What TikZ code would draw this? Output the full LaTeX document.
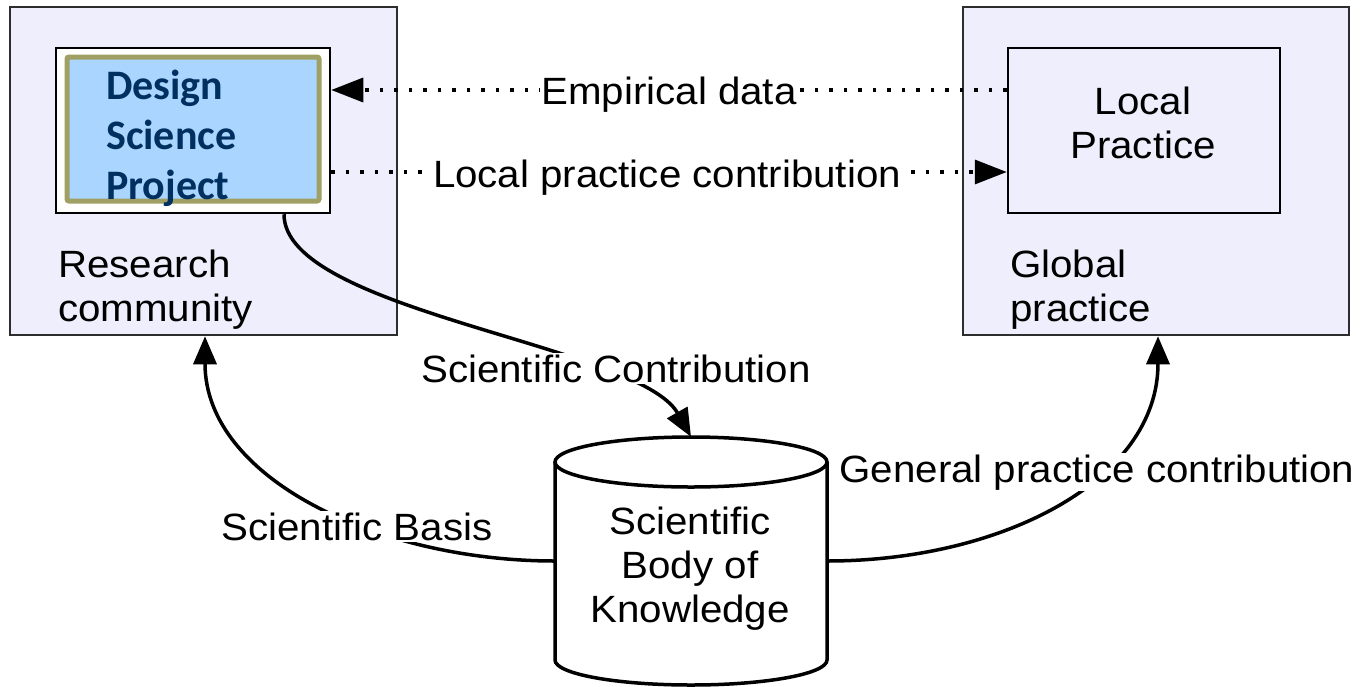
\documentclass[tikz,border=0pt]{standalone}
\usepackage{fontspec}
\setmainfont{Liberation Sans}[FakeStretch=1.06]
\newfontfamily\projfont{Carlito}
\usetikzlibrary{arrows.meta}

\definecolor{lavender}{RGB}{238,238,252}
\definecolor{frameline}{RGB}{45,45,45}
\definecolor{projblue}{RGB}{170,213,255}
\definecolor{projolive}{RGB}{160,160,100}
\definecolor{projtext}{RGB}{0,48,96}

\begin{document}
\begin{tikzpicture}[x=1pt,y=-1pt,
  txt/.style={font=\fontsize{38}{44}\selectfont, inner sep=0pt},
  community/.style={draw=frameline, line width=2.5pt, fill=lavender},
  innerframe/.style={draw=black, line width=2.5pt},
  dotline/.style={line width=3.5pt, dash pattern=on 3.5pt off 11pt},
  bigtip/.style={-{Triangle[length=32pt,width=24pt]}},
  curvetip/.style={-{Triangle[length=28pt,width=23pt]}},
  conn/.style={line width=3.5pt, curvetip},
  lbl/.style={txt, fill=white, inner sep=1.5pt, anchor=base}
]
\useasboundingbox (0,0) rectangle (1366,686);

% community boxes
\node[community, minimum width=387pt, minimum height=328pt] (rc) at (203.5,171) {};
\node[community, minimum width=386pt, minimum height=328pt] (gp) at (1156,171) {};

% project frame and local practice frame
\node[innerframe, fill=white, minimum width=274pt, minimum height=165pt] (dsp) at (193,130.5) {};
\node[innerframe, fill=lavender, minimum width=272pt, minimum height=165pt] (lp) at (1144,130.5) {};

% design science project panel
\node[draw=projolive, line width=5pt, fill=projblue, rounded corners=2pt,
      minimum width=252pt, minimum height=144pt] (proj) at (193,129) {};
\node[anchor=north west, inner sep=0pt, align=left, text=projtext,
      font=\projfont\bfseries\fontsize{42}{50}\selectfont] (projtxt) at (106,70)
      {Design\\Science\\Project};

% box captions
\node[txt, anchor=north west, align=left] (rctxt) at (58,250) {Research\\community};
\node[txt, anchor=north west, align=left] (gptxt) at (1010,250) {Global\\practice};
\node[txt, anchor=north, align=center] (lptxt) at (1143,87) {Local\\Practice};

% knowledge store
\node[minimum width=272pt, minimum height=248pt, inner sep=0pt] (sbk) at (691,561) {};
\filldraw[fill=white, draw=black, line width=3.5pt]
  (555,462) -- (555,660) arc[start angle=180, end angle=0, x radius=136, y radius=25]
  -- (827,462);
\filldraw[fill=white, draw=black, line width=3.5pt]
  (691,462) ellipse [x radius=136, y radius=25];
\node[txt, align=center] (sbktxt) at (690,569) {Scientific\\Body of\\Knowledge};

% dotted exchanges between the project and local practice
\draw[dotline, bigtip] ([yshift=40.5pt]lp.west) -- ([yshift=40.5pt]dsp.east);
\draw[dotline, bigtip] ([yshift=-41.5pt]dsp.east) -- ([yshift=-41.5pt]lp.west);
\node[lbl] (ed) at (669,104) {Empirical data};
\node[lbl] (lpc) at (667,187) {Local practice contribution};

% contributions to and from the body of knowledge
\draw[conn] ([xshift=91pt]dsp.south) .. controls +(0,97) and +(-52,-92) .. (sbk.north);
\draw[conn] (sbk.west) .. controls +(-175,0) and +(0,143) .. ([xshift=1.5pt]rc.south);
\draw[conn] (sbk.east) .. controls +(173,0) and +(0,145) .. ([xshift=2pt]gp.south);

\node[lbl] (sc) at (616,382) {Scientific Contribution};
\node[lbl] (sb) at (357,540) {Scientific Basis};
\node[lbl] (gpc) at (1097,482) {General practice contribution};
\end{tikzpicture}
\end{document}
